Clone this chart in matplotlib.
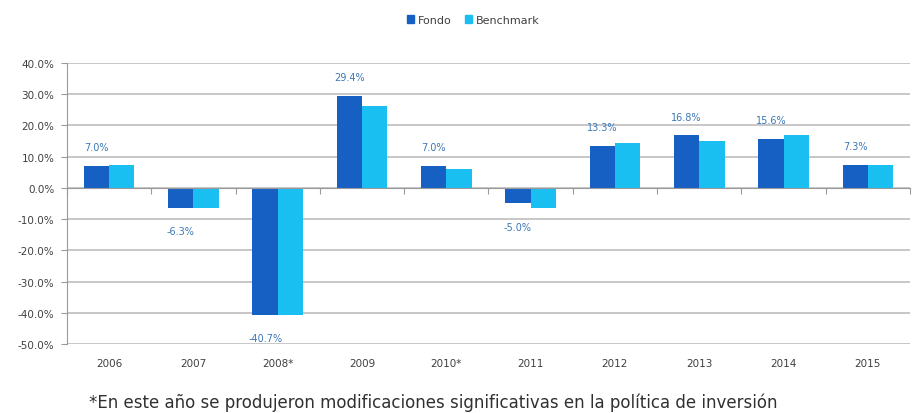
import numpy as np
import matplotlib
matplotlib.use('Agg')
import matplotlib.pyplot as plt
from matplotlib.patches import Patch

# data
years = ['2006', '2007', '2008*', '2009', '2010*', '2011', '2012', '2013', '2014', '2015']
fondo = [7.0, -6.3, -40.7, 29.4, 7.0, -5.0, 13.3, 16.8, 15.6, 7.3]
benchmark = [7.4, -6.6, -40.7, 26.2, 6.1, -6.4, 14.3, 15.1, 17.0, 7.4]
labels = ['7.0%', '-6.3%', '-40.7%', '29.4%', '7.0%', '-5.0%', '13.3%', '16.8%', '15.6%', '7.3%']
yticks = [-50, -40, -30, -20, -10, 0, 10, 20, 30, 40]

c_fondo = '#1660C4'
c_bench = '#19BFF0'
c_label = '#3B78B8'
c_grid = '#BDBDBD'
c_text = '#404040'

plt.rcParams['font.family'] = ['DejaVu Sans']

fig = plt.figure(figsize=(9.15, 4.14), dpi=100)
ax = fig.add_axes([0.0732, 0.1667, 0.9213, 0.6787])

x = np.arange(len(years))
w = 0.3
ax.bar(x - w / 2, fondo, w, color=c_fondo, zorder=3)
ax.bar(x + w / 2, benchmark, w, color=c_bench, zorder=3)

# data labels for the fund
for xi, v, lab in zip(x, fondo, labels):
    if v >= 0:
        ax.annotate(lab, (xi - w / 2, v), xytext=(0, 10), textcoords='offset points',
                    ha='center', va='bottom', fontsize=7, color=c_label)
    else:
        ax.annotate(lab, (xi - w / 2, v), xytext=(0, -13), textcoords='offset points',
                    ha='center', va='top', fontsize=7, color=c_label)

ax.set_xlim(-0.5, len(years) - 0.5)
ax.set_ylim(-50, 40)
ax.set_yticks(yticks)
ax.set_yticklabels(['%.1f%%' % t for t in yticks], fontsize=7.5, color=c_text)
ax.yaxis.grid(True, color=c_grid, linewidth=1.2, zorder=0)
ax.tick_params(axis='y', length=4, color='#9A9A9A', pad=5)

for s in ['top', 'right']:
    ax.spines[s].set_visible(False)
ax.spines['left'].set_color('#9A9A9A')
ax.spines['bottom'].set_position(('data', 0))
ax.spines['bottom'].set_color('#9A9A9A')
ax.spines['bottom'].set_zorder(4)

# category boundary ticks on the zero line
ax.set_xticks(np.arange(len(years) + 1) - 0.5)
ax.set_xticklabels([])
ax.tick_params(axis='x', length=4, color='#9A9A9A', direction='out')

# year labels under the plot area
sec = ax.secondary_xaxis(0)
sec.set_xticks(x)
sec.set_xticklabels(years, fontsize=7.5, color=c_text)
sec.tick_params(length=0, pad=10)
sec.spines['bottom'].set_visible(False)

handles = [Patch(color=c_fondo, label='Fondo'), Patch(color=c_bench, label='Benchmark')]
fig.legend(handles=handles, loc='center', bbox_to_anchor=(0.517, 0.95), ncol=2,
           frameon=False, fontsize=8, handlelength=0.7, handleheight=0.7,
           handletextpad=0.3, columnspacing=1.2, labelcolor=c_text)

fig.text(0.097, 0.027, '*En este año se produjeron modificaciones significativas en la política de inversión',
         fontsize=12, color='#303030', ha='left', va='center')

fig.savefig('out.png', dpi=100)
